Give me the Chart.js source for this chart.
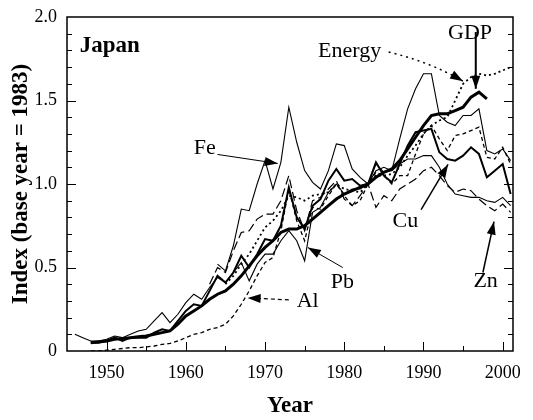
<!DOCTYPE html>
<html>
<head>
<meta charset="utf-8">
<script src="https://cdn.jsdelivr.net/npm/chart.js@4.4.1/dist/chart.umd.min.js"></script>
<style>
  html, body { margin: 0; padding: 0; background: #fff; }
  #wrap { width: 533px; height: 420px; }
</style>
</head>
<body>
<div id="wrap"><canvas id="myChart" width="533" height="420"></canvas></div>
<script>
// years 1946 .. 2001, one value per year (null = no data)
const years = [
    1946, 1947, 1948, 1949, 1950, 1951, 1952, 1953, 1954, 1955,
    1956, 1957, 1958, 1959, 1960, 1961, 1962, 1963, 1964, 1965,
    1966, 1967, 1968, 1969, 1970, 1971, 1972, 1973, 1974, 1975,
    1976, 1977, 1978, 1979, 1980, 1981, 1982, 1983, 1984, 1985,
    1986, 1987, 1988, 1989, 1990, 1991, 1992, 1993, 1994, 1995,
    1996, 1997, 1998, 1999, 2000, 2001
];

const gdp = [
    null, null, 0.05, 0.055, 0.06, 0.07, 0.075, 0.08, 0.085, 0.09,
    0.10, 0.11, 0.12, 0.16, 0.21, 0.24, 0.27, 0.31, 0.34, 0.36,
    0.40, 0.45, 0.51, 0.57, 0.62, 0.66, 0.71, 0.73, 0.73, 0.75,
    0.79, 0.83, 0.87, 0.91, 0.94, 0.96, 0.98, 1.00, 1.04, 1.07,
    1.09, 1.14, 1.21, 1.28, 1.35, 1.41, 1.42, 1.42, 1.44, 1.46,
    1.52, 1.55, 1.51, null, null, null
];

const energy = [
    null, null, null, null, null, null, null, null, null, null,
    null, null, null, null, null, null, null, null, null, 0.40,
    0.45, 0.52, 0.58, 0.66, 0.74, 0.78, 0.84, 0.93, 0.92, 0.90,
    0.93, 0.94, 0.95, 1.00, 0.97, 0.96, 0.95, 1.00, 1.05, 1.05,
    1.06, 1.10, 1.17, 1.23, 1.30, 1.35, 1.38, 1.40, 1.50, 1.60,
    1.64, 1.66, 1.65, 1.66, 1.68, 1.70
];

const fe = [
    null, null, null, null, null, null, null, null, null, null,
    null, null, null, null, null, null, null, null, 0.52, 0.48,
    0.63, 0.85, 0.84, 1.00, 1.14, 0.97, 1.13, 1.46, 1.25, 1.08,
    1.01, 0.97, 1.08, 1.24, 1.23, 1.09, 1.04, 1.00, 1.12, 1.07,
    1.08, 1.27, 1.45, 1.57, 1.66, 1.66, 1.41, 1.37, 1.35, 1.41,
    1.41, 1.45, 1.20, 1.18, 1.21, 1.14
];

const cu = [
    null, null, 0.05, 0.05, 0.06, 0.08, 0.06, 0.08, 0.08, 0.08,
    0.11, 0.13, 0.12, 0.18, 0.24, 0.28, 0.27, 0.36, 0.45, 0.41,
    0.47, 0.57, 0.50, 0.58, 0.67, 0.66, 0.75, 0.98, 0.80, 0.73,
    0.87, 0.91, 1.02, 1.09, 1.02, 1.03, 0.99, 1.00, 1.13, 1.05,
    1.01, 1.12, 1.23, 1.31, 1.32, 1.33, 1.19, 1.15, 1.14, 1.17,
    1.22, 1.18, 1.04, 1.08, 1.12, 0.94
];

const pb = [
    0.10, 0.08, 0.06, 0.06, 0.07, 0.09, 0.08, 0.10, 0.12, 0.13,
    0.18, 0.23, 0.17, 0.22, 0.29, 0.34, 0.31, 0.38, 0.44, 0.41,
    0.47, 0.53, 0.42, 0.52, 0.58, 0.58, 0.66, 0.72, 0.66, 0.54,
    0.83, 0.86, 0.95, 1.00, 0.94, 0.97, 0.97, 1.00, 1.08, 1.10,
    1.08, 1.12, 1.15, 1.15, 1.17, 1.17, 1.10, 1.00, 0.94, 0.93,
    0.92, 0.92, 0.90, 0.89, 0.92, 0.87
];

const zn = [
    null, null, null, null, null, null, null, null, null, null,
    null, null, null, null, null, null, null, 0.40, 0.50, 0.47,
    0.60, 0.71, 0.72, 0.79, 0.82, 0.82, 0.90, 1.05, 0.84, 0.72,
    0.90, 0.92, 0.97, 1.02, 0.91, 0.87, 0.93, 1.00, 0.86, 0.93,
    0.90, 0.97, 1.00, 1.03, 1.08, 1.10, 1.05, 0.99, 0.95, 0.97,
    0.96, 0.91, 0.87, 0.84, 0.88, 0.83
];

const al = [
    null, null, 0.00, 0.00, 0.005, 0.01, 0.015, 0.02, 0.02, 0.025,
    0.03, 0.04, 0.045, 0.06, 0.08, 0.10, 0.11, 0.13, 0.14, 0.16,
    0.21, 0.28, 0.36, 0.45, 0.53, 0.56, 0.72, 0.97, 0.78, 0.66,
    0.86, 0.85, 0.93, 1.00, 0.93, 0.87, 0.90, 1.00, 1.07, 1.05,
    1.00, 1.05, 1.05, 1.18, 1.30, 1.35, 1.27, 1.20, 1.29, 1.30,
    1.32, 1.34, 1.16, 1.15, 1.22, 1.12
];

const xTicks = [1950, 1960, 1970, 1980, 1990, 2000];
const yTicks = [0, 0.5, 1.0, 1.5, 2.0];

const serif = "'Liberation Serif', 'Times New Roman', serif";

function pts(vals) {
    return years.map((yr, i) => ({ x: yr, y: vals[i] }));
}

function line(label, vals, width, dash) {
    return {
        label: label,
        data: pts(vals),
        borderColor: '#000',
        borderWidth: width,
        borderDash: dash,
        pointRadius: 0,
        fill: false,
        spanGaps: false
    };
}

// text labels and arrows, placed in data units (year, index)
const notes = [
    { text: 'Japan', x: 1946.6, y: 1.79, bold: true },
    { text: 'Energy', x: 1976.7, y: 1.76 },
    { text: 'GDP', x: 1993.1, y: 1.87 },
    { text: 'Fe', x: 1961.0, y: 1.18 },
    { text: 'Pb', x: 1978.3, y: 0.38 },
    { text: 'Al', x: 1974.0, y: 0.265 },
    { text: 'Cu', x: 1986.1, y: 0.745 },
    { text: 'Zn', x: 1996.3, y: 0.385 }
];

const arrows = [
    { from: [1964.0, 1.177], to: [1971.6, 1.123], width: 1 },
    { from: [1985.6, 1.79], ctrl: [1990.9, 1.73], to: [1995.0, 1.615], width: 1.5, dash: [2, 4] },
    { from: [1996.6, 1.91], to: [1996.6, 1.57], width: 2 },
    { from: [1989.7, 0.847], to: [1993.1, 1.117], width: 1.5 },
    { from: [1997.5, 0.47], to: [1998.9, 0.775], width: 1.5 },
    { from: [1979.8, 0.50], to: [1975.4, 0.62], width: 1 },
    { from: [1973.0, 0.306], to: [1967.8, 0.318], width: 1.2, dash: [4, 3] }
];

const decor = {
    id: 'decor',
    afterDatasetsDraw(chart) {
        const ctx = chart.ctx;
        const a = chart.chartArea;
        const xs = chart.scales.x;
        const ys = chart.scales.y;
        ctx.save();
        ctx.strokeStyle = '#000';
        ctx.fillStyle = '#000';

        // frame
        ctx.lineWidth = 1.5;
        ctx.strokeRect(a.left, a.top, a.right - a.left, a.bottom - a.top);

        // inward ticks
        ctx.lineWidth = 1;
        ctx.beginPath();
        for (let yr = 1950; yr <= 2000; yr += 5) {
            const px = Math.round(xs.getPixelForValue(yr)) + 0.5;
            const len = yr % 10 === 0 ? 9 : 5;
            ctx.moveTo(px, a.bottom);
            ctx.lineTo(px, a.bottom - len);
        }
        for (let k = 1; k < 20; k++) {
            const py = Math.round(ys.getPixelForValue(k / 10)) + 0.5;
            const len = k % 5 === 0 ? 9 : 5;
            ctx.moveTo(a.left, py);
            ctx.lineTo(a.left + len, py);
            ctx.moveTo(a.right, py);
            ctx.lineTo(a.right - len, py);
        }
        ctx.stroke();

        // labels
        ctx.textBaseline = 'alphabetic';
        ctx.textAlign = 'left';
        notes.forEach(n => {
            ctx.font = (n.bold ? 'bold 23px ' : '22px ') + serif;
            ctx.fillText(n.text, xs.getPixelForValue(n.x), ys.getPixelForValue(n.y));
        });

        // arrows
        arrows.forEach(ar => {
            const x0 = xs.getPixelForValue(ar.from[0]), y0 = ys.getPixelForValue(ar.from[1]);
            const x1 = xs.getPixelForValue(ar.to[0]), y1 = ys.getPixelForValue(ar.to[1]);
            let dirX = x0, dirY = y0;
            ctx.lineWidth = ar.width;
            ctx.setLineDash(ar.dash || []);
            ctx.beginPath();
            ctx.moveTo(x0, y0);
            if (ar.ctrl) {
                const cx = xs.getPixelForValue(ar.ctrl[0]), cy = ys.getPixelForValue(ar.ctrl[1]);
                ctx.quadraticCurveTo(cx, cy, x1, y1);
                dirX = cx; dirY = cy;
            } else {
                ctx.lineTo(x1, y1);
            }
            ctx.stroke();
            ctx.setLineDash([]);
            const ang = Math.atan2(y1 - dirY, x1 - dirX);
            const hl = 13, hw = 4.5;
            ctx.beginPath();
            ctx.moveTo(x1, y1);
            ctx.lineTo(x1 - hl * Math.cos(ang) + hw * Math.sin(ang), y1 - hl * Math.sin(ang) - hw * Math.cos(ang));
            ctx.lineTo(x1 - hl * Math.cos(ang) - hw * Math.sin(ang), y1 - hl * Math.sin(ang) + hw * Math.cos(ang));
            ctx.closePath();
            ctx.fill();
        });
        ctx.restore();
    }
};

const config = {
    type: 'line',
    data: {
        datasets: [
            line('GDP', gdp, 3),
            line('Cu', cu, 2),
            line('Fe', fe, 1.1),
            line('Pb', pb, 1.1),
            line('Zn', zn, 1.2, [9, 4]),
            line('Al', al, 1.3, [4, 3]),
            line('Energy', energy, 1.8, [2, 3])
        ]
    },
    options: {
        responsive: false,
        animation: false,
        layout: { padding: { top: 17, right: 20, left: 0, bottom: 0 } },
        plugins: {
            legend: { display: false },
            tooltip: { enabled: false }
        },
        scales: {
            x: {
                type: 'linear',
                min: 1945,
                max: 2001.3,
                afterBuildTicks: s => { s.ticks = xTicks.map(v => ({ value: v })); },
                afterFit: s => { s.height = 69; },
                grid: { display: false },
                border: { display: false },
                ticks: {
                    color: '#000',
                    padding: 3,
                    maxRotation: 0,
                    font: { family: serif, size: 18 },
                    callback: v => String(v)
                },
                title: {
                    display: true,
                    text: 'Year',
                    color: '#000',
                    padding: { top: 1, bottom: 0 },
                    font: { family: serif, size: 23, weight: 'bold' }
                }
            },
            y: {
                min: 0,
                max: 2,
                afterBuildTicks: s => { s.ticks = yTicks.map(v => ({ value: v })); },
                afterFit: s => { s.width = 67; },
                grid: { display: false },
                border: { display: false },
                ticks: {
                    color: '#000',
                    padding: 2,
                    font: { family: serif, size: 18 },
                    callback: v => (v === 0 ? '0' : v.toFixed(1))
                },
                title: {
                    display: true,
                    text: 'Index (base year = 1983)',
                    color: '#000',
                    padding: { top: 7, bottom: 0 },
                    font: { family: serif, size: 23, weight: 'bold' }
                }
            }
        }
    },
    plugins: [decor]
};

const myChart = new Chart(document.getElementById('myChart'), config);
</script>
</body>
</html>
